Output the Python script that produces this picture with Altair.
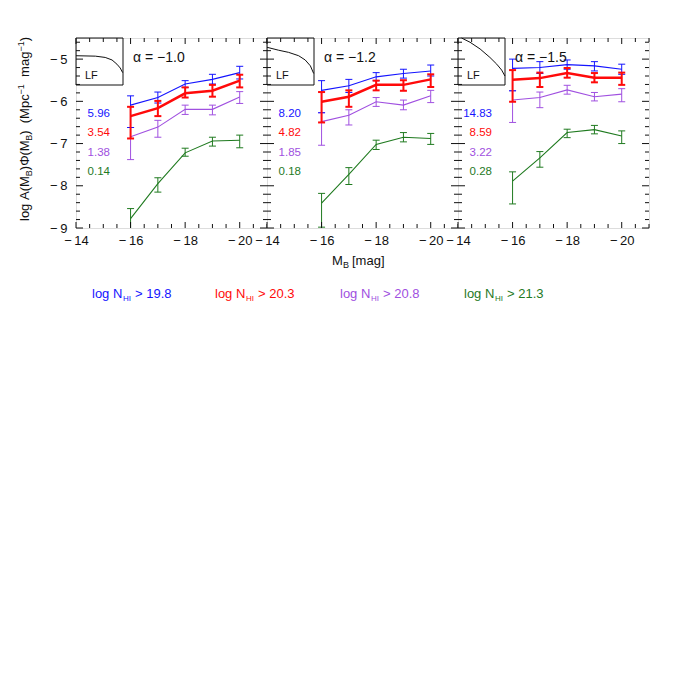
import altair as alt
import pandas as pd
import numpy as np

# ---------------- data ----------------
M_B = [-16, -17, -18, -19, -20]
THRESHOLDS = ["19.8", "20.3", "20.8", "21.3"]
COLORS = ["#1414ff", "#ff0a0a", "#a050e0", "#1f7a1f"]
ALPHA_TEXT = ["α\u00a0=\u00a0−1.0", "α\u00a0=\u00a0−1.2", "α\u00a0=\u00a0−1.5"]
NUMBERS = [["5.96", "3.54", "1.38", "0.14"],
           ["8.20", "4.82", "1.85", "0.18"],
           ["14.83", "8.59", "3.22", "0.28"]]

# alpha = -1.0  (value, upper, lower) for blue, red, purple, green
a10_blue = ([-6.09, -5.91, -5.59, -5.48, -5.32], [-5.87, -5.78, -5.51, -5.36, -5.17], [-6.62, -6.04, -5.67, -5.59, -5.47])
a10_red = ([-6.35, -6.16, -5.81, -5.75, -5.51], [-6.13, -5.99, -5.67, -5.61, -5.37], [-6.88, -6.35, -5.91, -5.89, -5.67])
a10_purple = ([-6.84, -6.61, -6.19, -6.19, -5.90], [-6.62, -6.45, -6.09, -6.09, -5.77], [-7.38, -6.85, -6.31, -6.32, -6.05])
a10_green = ([-8.78, -7.95, -7.22, -6.94, -6.92], [-8.54, -7.81, -7.11, -6.85, -6.80], [-9.30, -8.15, -7.30, -7.06, -7.10])

# alpha = -1.2
a12_blue = ([-5.74, -5.63, -5.42, -5.34, -5.28], [-5.51, -5.48, -5.32, -5.24, -5.14], [-6.27, -5.79, -5.51, -5.45, -5.40])
a12_red = ([-6.01, -5.89, -5.61, -5.61, -5.48], [-5.78, -5.74, -5.51, -5.50, -5.36], [-6.50, -6.13, -5.74, -5.75, -5.66])
a12_purple = ([-6.48, -6.33, -6.01, -6.09, -5.87], [-6.27, -6.20, -5.91, -5.97, -5.74], [-7.04, -6.56, -6.12, -6.20, -6.03])
a12_green = ([-8.41, -7.73, -7.02, -6.85, -6.88], [-8.18, -7.57, -6.92, -6.74, -6.76], [-8.98, -7.97, -7.14, -6.96, -7.02])

# alpha = -1.5
a15_blue = ([-5.22, -5.20, -5.13, -5.16, -5.24], [-5.00, -5.06, -5.02, -5.06, -5.12], [-5.75, -5.34, -5.24, -5.28, -5.36])
a15_red = ([-5.49, -5.45, -5.33, -5.44, -5.44], [-5.26, -5.32, -5.21, -5.33, -5.32], [-6.01, -5.66, -5.44, -5.55, -5.61])
a15_purple = ([-5.97, -5.91, -5.73, -5.89, -5.83], [-5.75, -5.78, -5.62, -5.79, -5.70], [-6.50, -6.15, -5.83, -5.99, -6.01])
a15_green = ([-7.89, -7.34, -6.74, -6.67, -6.82], [-7.67, -7.19, -6.66, -6.57, -6.70], [-8.43, -7.56, -6.86, -6.77, -7.00])

PANELS = [[a10_blue, a10_red, a10_purple, a10_green],
          [a12_blue, a12_red, a12_purple, a12_green],
          [a15_blue, a15_red, a15_purple, a15_green]]

# luminosity-function inset curves
LF_X = [[-14.0, -14.71, -15.07, -15.32, -15.50, -15.62, -15.71],
        [-14.0, -14.43, -14.79, -15.16, -15.40, -15.59, -15.71],
        [-14.13, -14.44, -14.81, -15.17, -15.42, -15.60, -15.72]]
LF_Y = [[-4.92, -4.93, -4.96, -5.02, -5.12, -5.21, -5.32],
        [-4.72, -4.79, -4.84, -4.92, -5.02, -5.16, -5.34],
        [-4.50, -4.60, -4.76, -4.96, -5.12, -5.26, -5.40]]

X_LABEL_VALUES = [-14, -16, -18, -20]
Y_LABEL_VALUES = [-5, -6, -7, -8, -9]

# ---------------- styling ----------------
W, H = 191, 190
FONT = "Liberation Sans"
INK = "#111111"
xs = alt.Scale(domain=[-21, -14], reverse=True, nice=False, zero=False)
ys = alt.Scale(domain=[-9, -4.5], nice=False, zero=False)

x_minor = [float(v) for v in np.arange(-14.0, -21.01, -0.5) if v not in X_LABEL_VALUES]
y_minor = [round(float(v), 1) for v in np.arange(-9.0, -4.49, 0.2) if abs(v - round(v)) > 1e-6]

label_expr = "'−\u2009' + abs(datum.value)"

X_AXIS = alt.Axis(values=X_LABEL_VALUES, labelExpr=label_expr, ticks=False, tickSize=0,
                  domain=False, grid=False, title=None, labelFont=FONT, labelFontSize=13,
                  labelColor=INK, labelPadding=6, labelFlush=False, labelOverlap=False,
                  labelBound=False)
Y_AXIS = alt.Axis(values=Y_LABEL_VALUES, labelExpr=label_expr, ticks=False, tickSize=0,
                  domain=False, grid=False, title=None, labelFont=FONT, labelFontSize=13,
                  labelColor=INK, labelPadding=9, labelFlush=False, labelOverlap=False,
                  labelBound=False)

one = pd.DataFrame({"k": [0]})


def txt(text, x, y, size, color=INK, align="left", baseline="alphabetic", angle=0, dx=0, dy=0):
    kw = dict(text=text, font=FONT, fontSize=size, color=color, align=align,
              baseline=baseline, dx=dx, dy=dy)
    if angle:
        kw["angle"] = angle
    return alt.Chart(one).mark_text(**kw).encode(x=alt.value(x), y=alt.value(y))


def panel(i):
    yax = Y_AXIS if i == 0 else None

    def X(field):
        return alt.X(f"{field}:Q", scale=xs, axis=X_AXIS)

    def Y(field):
        return alt.Y(f"{field}:Q", scale=ys, axis=yax)

    layers = []
    for k in [3, 2, 0, 1]:  # green, purple, blue, red (red on top)
        yv, hi, lo = PANELS[i][k]
        df = pd.DataFrame({"M": M_B, "y": yv, "hi": hi, "lo": lo})
        c = COLORS[k]
        red = (k == 1)
        lw = 2.5 if red else 1.1
        ew = 2 if red else 1
        base = alt.Chart(df)
        layers.append(base.mark_line(color=c, strokeWidth=lw, clip=True).encode(x=X("M"), y=Y("y")))
        layers.append(base.mark_rule(color=c, strokeWidth=ew, clip=True).encode(
            x=X("M"), y=Y("lo"), y2="hi:Q"))
        for col in ["hi", "lo"]:
            layers.append(base.mark_tick(color=c, orient="horizontal", size=7, thickness=ew,
                                         opacity=1, clip=True).encode(x=X("M"), y=Y(col)))

    # inset luminosity function
    lf = pd.DataFrame({"M": LF_X[i], "y": LF_Y[i]})
    layers.append(alt.Chart(lf).mark_line(color=INK, strokeWidth=1).encode(x=X("M"), y=Y("y")))
    layers.append(alt.Chart(one).mark_rect(fillOpacity=0, stroke=INK, strokeWidth=1).encode(
        x=alt.value(0), x2=alt.value(47), y=alt.value(0), y2=alt.value(47)))
    layers.append(txt("LF", 9, 41, 11))
    layers.append(txt(ALPHA_TEXT[i], 57, 20, 14, baseline="middle"))

    # numbers
    for r, (s, c) in enumerate(zip(NUMBERS[i], COLORS)):
        layers.append(txt(s, 34, 76 + 19.4 * r, 11.5, color=c, align="right", baseline="middle"))

    # inward ticks on all four sides
    for vals, L in [(X_LABEL_VALUES, 6), (x_minor, 4)]:
        d = pd.DataFrame({"M": vals})
        layers.append(alt.Chart(d).mark_rule(color=INK, strokeWidth=1).encode(
            x=X("M"), y=alt.value(0), y2=alt.value(L)))
        layers.append(alt.Chart(d).mark_rule(color=INK, strokeWidth=1).encode(
            x=X("M"), y=alt.value(H), y2=alt.value(H - L)))
    for vals, L in [(Y_LABEL_VALUES, 7), (y_minor, 4)]:
        d = pd.DataFrame({"y": vals})
        layers.append(alt.Chart(d).mark_rule(color=INK, strokeWidth=1).encode(
            y=Y("y"), x=alt.value(0), x2=alt.value(L)))
        layers.append(alt.Chart(d).mark_rule(color=INK, strokeWidth=1).encode(
            y=Y("y"), x=alt.value(W), x2=alt.value(W - L)))

    if i == 0:
        # y title with subscripts / superscripts
        segs = [("log\u00a0A(M", 13, 0, 0), ("B", 9, 44.8, 3), (")Φ(M", 13, 50.8, 0),
                ("B", 9, 80.2, 3), (")\u00a0\u00a0(Mpc", 13, 86.2, 0), ("−1", 9, 126.6, -5),
                ("mag", 13, 144.1, 0), ("−1", 9, 169.4, -5), (")", 13, 179.7, 0)]
        for s, fs, dx, dy in segs:
            layers.append(txt(s, -47, 183, fs, angle=270, dx=dx, dy=dy))
        # legend
        lx = [16, 139, 264, 388]
        for t, c, x0 in zip(THRESHOLDS, COLORS, lx):
            layers.append(txt("log\u00a0N", x0, 260, 13, color=c))
            layers.append(txt("HI", x0, 260, 8, color=c, dx=31, dy=3))
            layers.append(txt(">\u00a0" + t, x0, 260, 13, color=c, dx=43))
    if i == 1:
        layers.append(txt("M", 65, 227, 13))
        layers.append(txt("B", 65, 227, 9, dx=11, dy=3))
        layers.append(txt("[mag]", 65, 227, 13, dx=20))

    return alt.layer(*layers).properties(width=W, height=H)


chart = alt.hconcat(panel(0), panel(1), panel(2), spacing=0, bounds="flush").properties(
    padding={"left": 8, "top": 27, "right": 5, "bottom": 5}
).configure_view(stroke=INK, strokeWidth=1).configure(background="white")

chart.save("out.html", embed_options={"renderer": "svg", "actions": False})
